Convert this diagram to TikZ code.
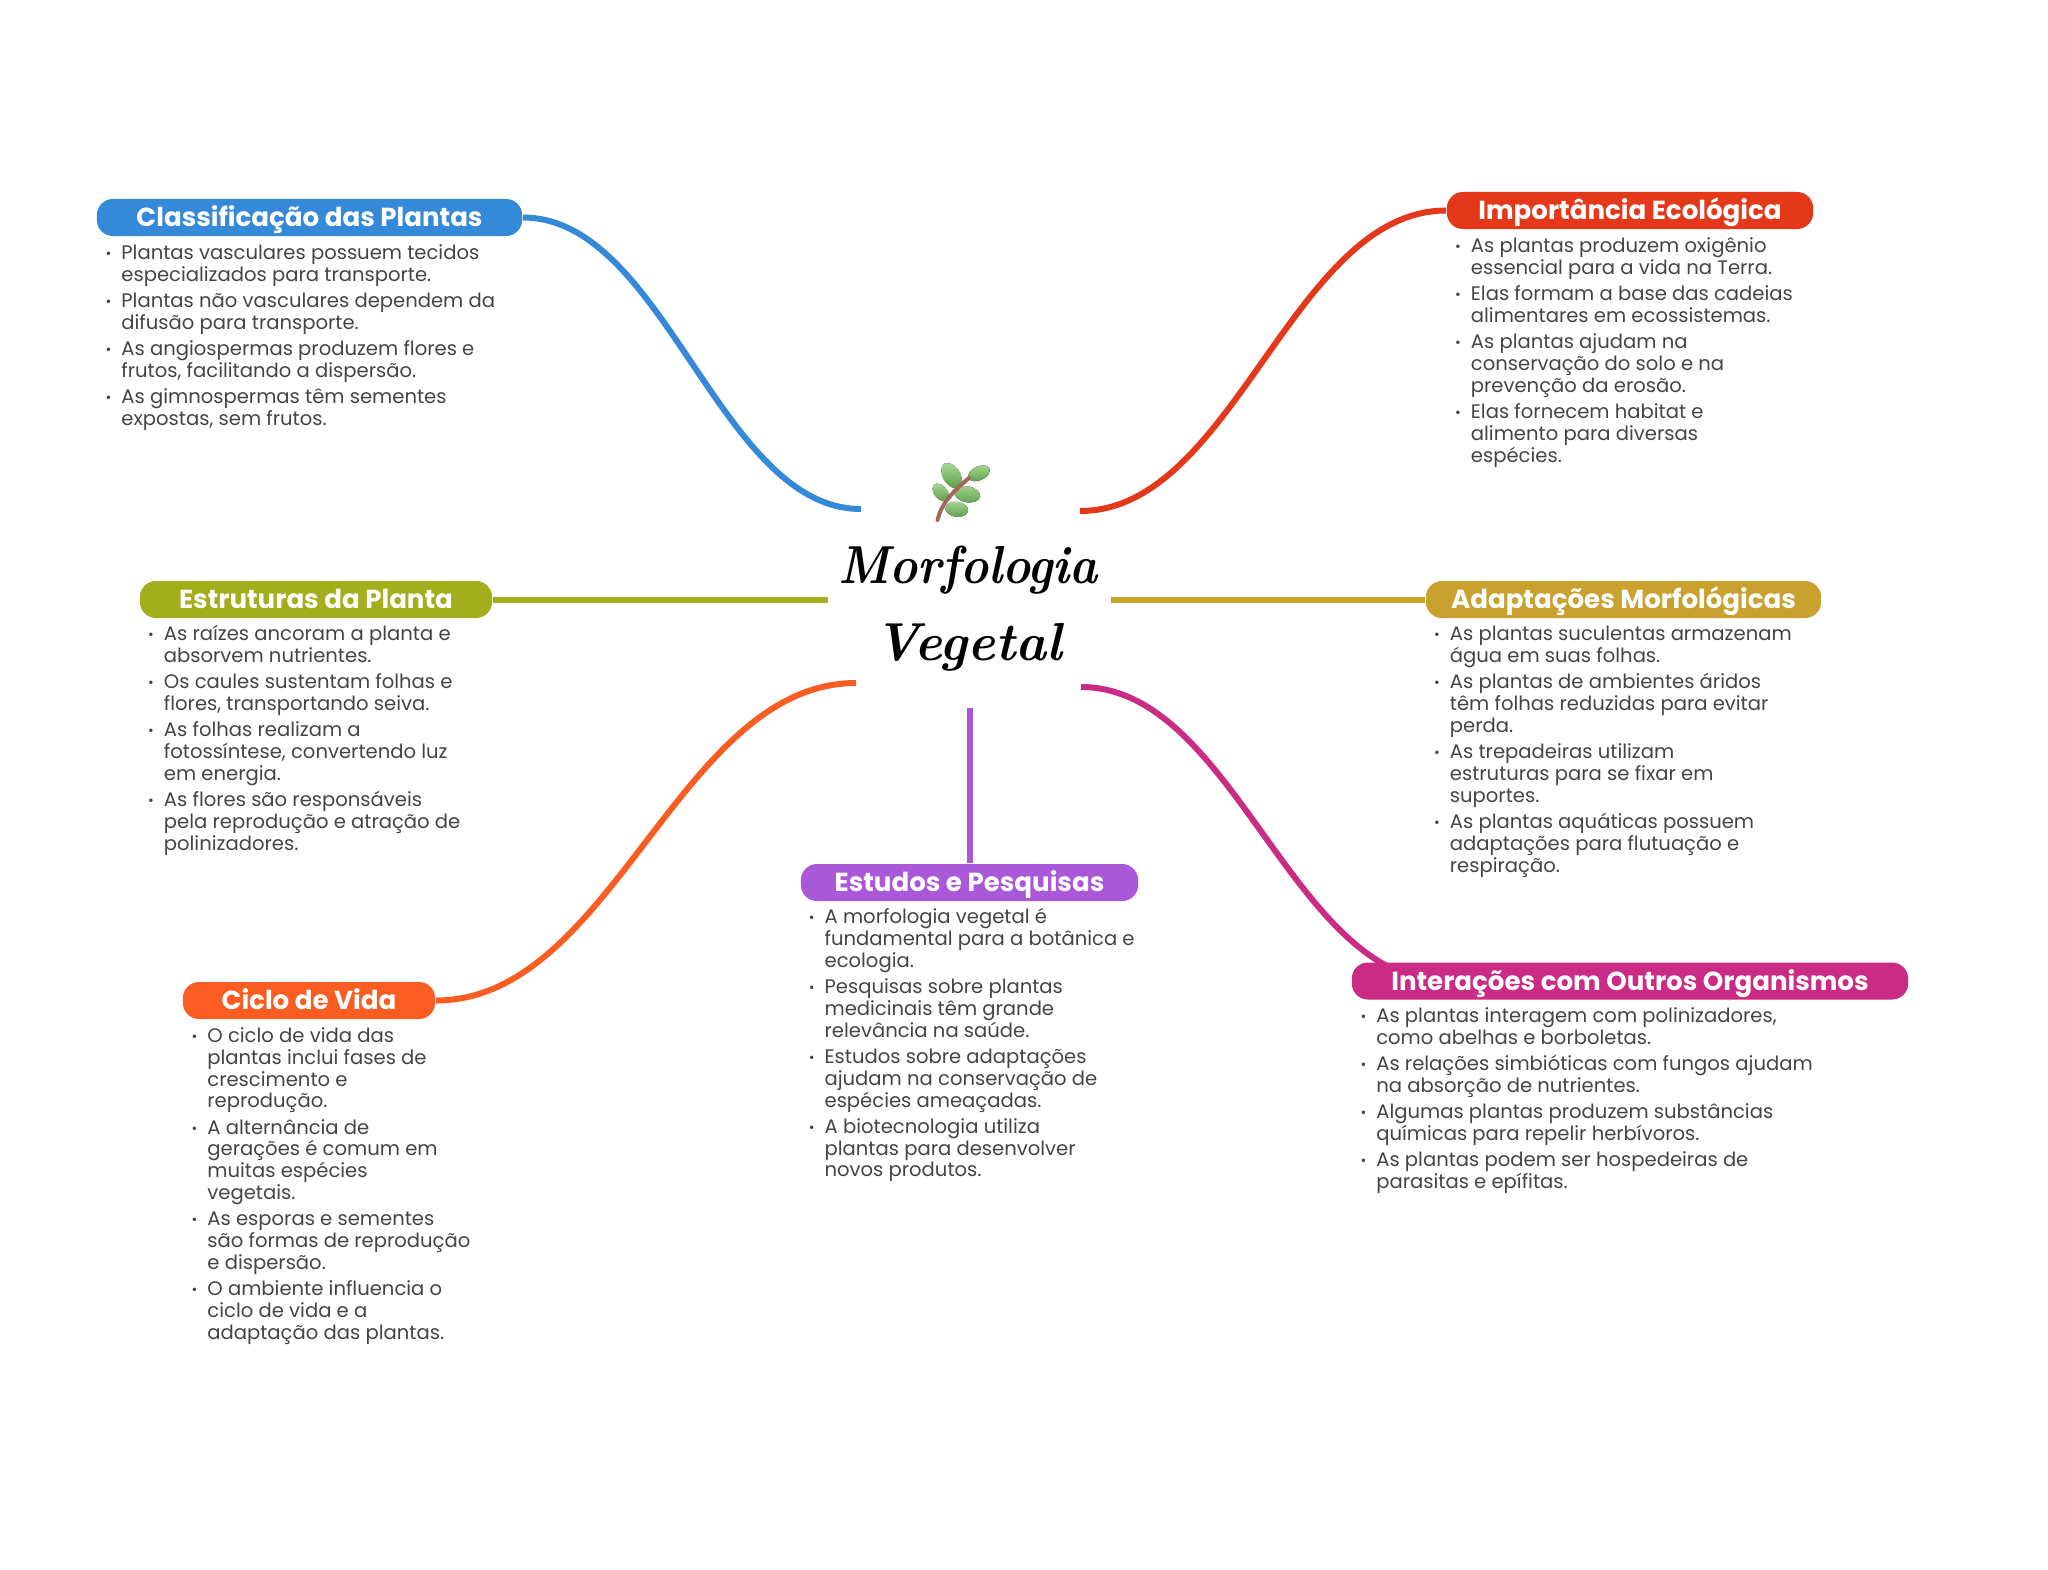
\documentclass[tikz,border=0pt]{standalone}
\usepackage{fontspec}
\usepackage{graphicx}
\setmainfont{Poppins}
\usetikzlibrary{backgrounds}
\definecolor{classcol}{HTML}{3489D8}
\definecolor{impcol}{HTML}{E4381B}
\definecolor{estrcol}{HTML}{A3AE1C}
\definecolor{adapcol}{HTML}{C9A12F}
\definecolor{ciclocol}{HTML}{F95D22}
\definecolor{pesqcol}{HTML}{A958D8}
\definecolor{intercol}{HTML}{C92B85}
\definecolor{bodycol}{HTML}{444444}
\definecolor{leaftop}{HTML}{A6D592}
\definecolor{leafbot}{HTML}{5F9F4B}
\definecolor{stemcol}{HTML}{A2695B}
\def\bul{\leavevmode\rule{0pt}{1.6mm}\llap{\raisebox{0.1mm}{\fontsize{4}{4}\selectfont•}\hspace{1mm}}}
\tikzset{
	pill/.style={rectangle, rounded corners=1.6mm, fill=#1, text=white, minimum height=3.7mm, inner sep=0pt, text height=2.1mm, text depth=0.25mm, font=\fontsize{7.42}{8}\selectfont\bfseries},
	bodytxt/.style={anchor=north west, align=left, inner sep=0pt, text=bodycol, font=\fontsize{5.57}{6.2}\selectfont},
	link/.style={draw=#1, line width=0.6mm},
	leaf/.style={shade, top color=leaftop, bottom color=leafbot, draw=none},
	every picture/.append style={x=0.01cm, y=-0.01cm}
}

\begin{document}
\begin{tikzpicture}
		%%%%% START %%%%%
		\useasboundingbox (0, 0) rectangle (2048, 1569);
		
		\node[align=center, font=\fontsize{15.2}{21.9}\selectfont\fontfamily{lmr}\fontseries{bx}\fontshape{it}\selectfont] (morfo) at (968, 609) {\scalebox{0.89}[1]{Morfologia}\\\scalebox{0.98}[1]{Vegetal}};
		
		\node[pill=classcol, minimum width=42.5mm] (classif) at (309.5, 217.5) {Classificação das Plantas};
		\node[pill=impcol, minimum width=36.6mm] (import) at (1630, 210.5) {Importância Ecológica};
		\node[pill=estrcol, minimum width=35.2mm] (estrut) at (316, 599.5) {Estruturas da Planta};
		\node[pill=adapcol, minimum width=39.5mm] (adapt) at (1623.5, 599.5) {Adaptações Morfológicas};
		\node[pill=ciclocol, minimum width=25.2mm] (ciclo) at (309, 1000.5) {Ciclo de Vida};
		\node[pill=pesqcol, minimum width=33.7mm] (pesq) at (969.5, 882.5) {Estudos e Pesquisas};
		\node[pill=intercol, minimum width=55.6mm] (inter) at (1630, 981) {Interações com Outros Organismos};
		
		\node[bodytxt] (classifTxt) at (120.7, 243) {\bul Plantas vasculares possuem tecidos\\especializados para transporte.\\[0.44mm]
			\bul Plantas não vasculares dependem da\\difusão para transporte.\\[0.44mm]
			\bul As angiospermas produzem flores e\\frutos, facilitando a dispersão.\\[0.44mm]
			\bul As gimnospermas têm sementes\\expostas, sem frutos.};
		\node[bodytxt] (importTxt) at (1470.2, 235.9) {\bul As plantas produzem oxigênio\\essencial para a vida na Terra.\\[0.44mm]
			\bul Elas formam a base das cadeias\\alimentares em ecossistemas.\\[0.44mm]
			\bul As plantas ajudam na\\conservação do solo e na\\prevenção da erosão.\\[0.44mm]
			\bul Elas fornecem habitat e\\alimento para diversas\\espécies.};
		\node[bodytxt] (estrutTxt) at (163.2, 624.2) {\bul As raízes ancoram a planta e\\absorvem nutrientes.\\[0.44mm]
			\bul Os caules sustentam folhas e\\flores, transportando seiva.\\[0.44mm]
			\bul As folhas realizam a\\fotossíntese, convertendo luz\\em energia.\\[0.44mm]
			\bul As flores são responsáveis\\pela reprodução e atração de\\polinizadores.};
		\node[bodytxt] (adaptTxt) at (1449.2, 624.2) {\bul As plantas suculentas armazenam\\água em suas folhas.\\[0.44mm]
			\bul As plantas de ambientes áridos\\têm folhas reduzidas para evitar\\perda.\\[0.44mm]
			\bul As trepadeiras utilizam\\estruturas para se fixar em\\suportes.\\[0.44mm]
			\bul As plantas aquáticas possuem\\adaptações para flutuação e\\respiração.};
		\node[bodytxt] (cicloTxt) at (206.7, 1025.7) {\bul O ciclo de vida das\\plantas inclui fases de\\crescimento e\\reprodução.\\[0.44mm]
			\bul A alternância de\\gerações é comum em\\muitas espécies\\vegetais.\\[0.44mm]
			\bul As esporas e sementes\\são formas de reprodução\\e dispersão.\\[0.44mm]
			\bul O ambiente influencia o\\ciclo de vida e a\\adaptação das plantas.};
		\node[bodytxt] (pesqTxt) at (823.9, 907.2) {\bul A morfologia vegetal é\\fundamental para a botânica e\\ecologia.\\[0.44mm]
			\bul Pesquisas sobre plantas\\medicinais têm grande\\relevância na saúde.\\[0.44mm]
			\bul Estudos sobre adaptações\\ajudam na conservação de\\espécies ameaçadas.\\[0.44mm]
			\bul A biotecnologia utiliza\\plantas para desenvolver\\novos produtos.};
		\node[bodytxt] (interTxt) at (1375.6, 1005.7) {\bul As plantas interagem com polinizadores,\\como abelhas e borboletas.\\[0.44mm]
			\bul As relações simbióticas com fungos ajudam\\na absorção de nutrientes.\\[0.44mm]
			\bul Algumas plantas produzem substâncias\\químicas para repelir herbívoros.\\[0.44mm]
			\bul As plantas podem ser hospedeiras de\\parasitas e epífitas.};
		
		\coordinate (endClass) at (861, 509);
		\coordinate (endImp) at (1080, 511);
		\coordinate (endEstr) at (828, 599.5);
		\coordinate (endAdap) at (1111, 599.5);
		\coordinate (endCiclo) at (856, 683);
		\coordinate (endPesq) at (970, 708);
		\coordinate (endInter) at (1081, 687);
		\coordinate (startInter) at (1445, 981);
		
		\begin{scope}[on background layer]
			\draw[link=classcol] (classif.east) .. controls +(142, 0) and +(-142, 0) .. (endClass);
			\draw[link=impcol] (import.west) .. controls +(-154, 0) and +(154, 0) .. (endImp);
			\draw[link=estrcol] (estrut.east) -- (endEstr);
			\draw[link=adapcol] (adapt.west) -- (endAdap);
			\draw[link=ciclocol] (ciclo.east) .. controls +(177, 0) and +(-177, 0) .. (endCiclo);
			\draw[link=pesqcol, line width=0.65mm] (pesq.north -| endPesq) -- (endPesq);
			\draw[link=intercol] (startInter) .. controls +(-153, 0) and +(153, 0) .. (endInter);
		\end{scope}
		
		% folhinha
		\fill[leaf] (951.7, 475.7) ellipse [x radius=14, y radius=8.5, rotate=-58];
		\fill[leaf] (979, 473.3) ellipse [x radius=11.5, y radius=7, rotate=25];
		\fill[leaf] (940.7, 492.3) ellipse [x radius=10, y radius=6.5, rotate=-50];
		\fill[leaf] (967.3, 494.3) ellipse [x radius=13, y radius=8, rotate=-10];
		\fill[leaf] (956.7, 509.3) ellipse [x radius=11.5, y radius=7.5, rotate=-8];
		\draw[line width=0.4mm, line cap=round, color=stemcol] (937.5, 520) .. controls (941, 505) and (950, 494) .. (969, 478);
		
		%%%%% END %%%%%
\end{tikzpicture}
\end{document}
